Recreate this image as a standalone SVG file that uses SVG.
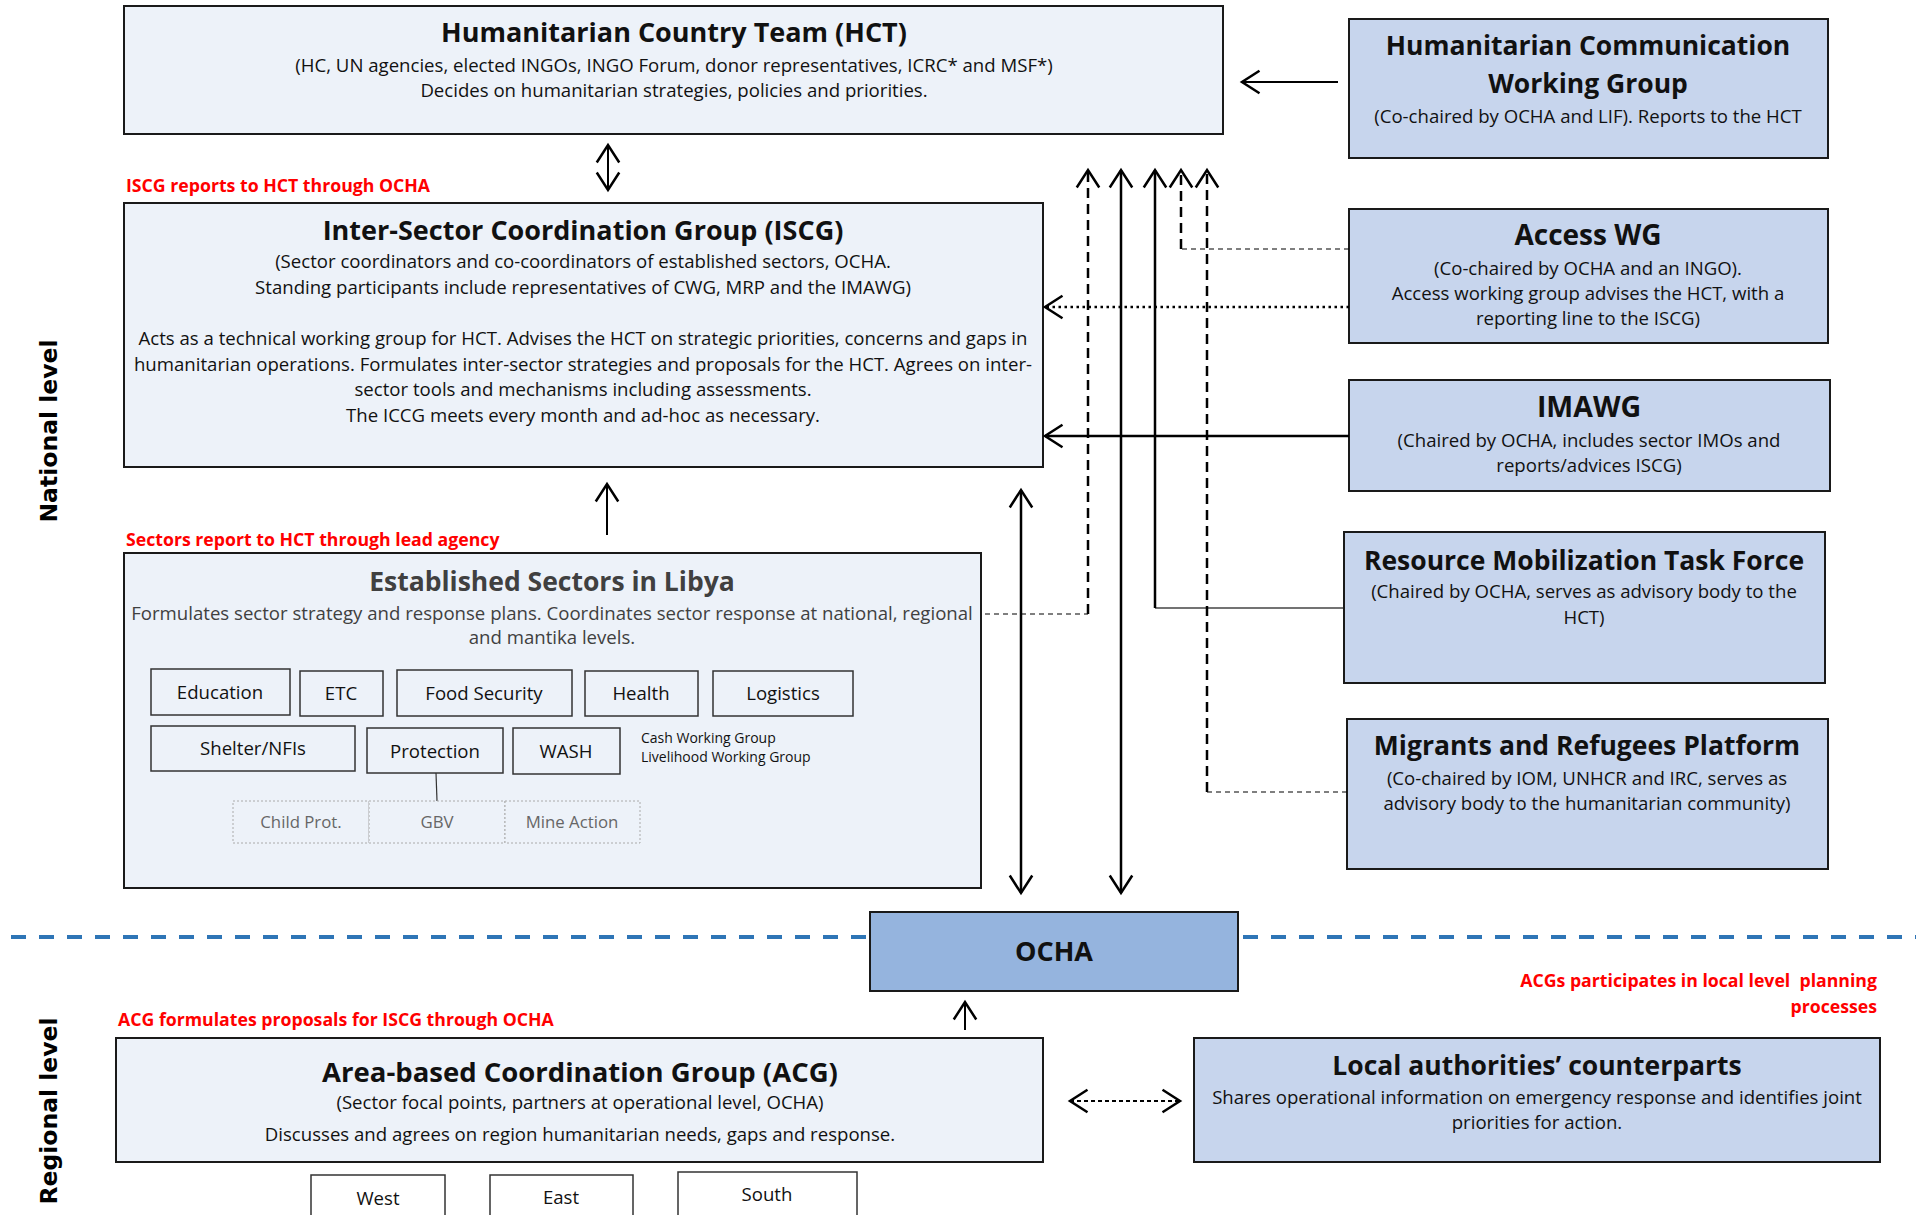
<svg xmlns="http://www.w3.org/2000/svg" width="1916" height="1215" viewBox="0 0 1916 1215">
<defs>
<style>
text{font-family:"Open Sans","Noto Sans","Liberation Sans",sans-serif;fill:#111}
.t{font-weight:bold;font-size:26.5px;text-anchor:middle}
.s{font-size:18.6px;text-anchor:middle}
.red{font-weight:bold;font-size:17.7px;fill:#ff0000}
.lt{fill:#edf2f9;stroke:#1a1a1a;stroke-width:2}
.rb{fill:#c7d5ed;stroke:#1a1a1a;stroke-width:2}
.sec{fill:#edf2f9;stroke:#333;stroke-width:1.5}
.sub{fill:#edf2f9;stroke:#aaa;stroke-width:1;stroke-dasharray:2 2}
.reg{fill:#fff;stroke:#333;stroke-width:1.5}
.sl{font-size:18.6px;text-anchor:middle;fill:#111}
.gl{font-size:16.8px;text-anchor:middle;fill:#666}
.lvl{font-family:"DejaVu Sans",Verdana,sans-serif;font-weight:bold;font-size:23.5px;text-anchor:middle;fill:#000}
.ln{fill:none;stroke:#000;stroke-width:2.5}
.dsh{fill:none;stroke:#000;stroke-width:2.5;stroke-dasharray:10 6}
.thd{fill:none;stroke:#000;stroke-width:1.2;stroke-dasharray:5 4}
</style>
<marker id="ah" markerUnits="userSpaceOnUse" markerWidth="30" markerHeight="30" refX="0" refY="0" viewBox="-16 -12 18 24" orient="auto-start-reverse" overflow="visible">
<path d="M-14,-9 L0,0 L-14,9" fill="none" stroke="#000" stroke-width="2"/>
</marker>
</defs>
<rect width="1916" height="1215" fill="#fff"/>

<!-- level labels -->
<text class="lvl" transform="translate(57,431) rotate(-90)">National level</text>
<text class="lvl" transform="translate(57,1111) rotate(-90)">Regional level</text>

<!-- blue separator -->
<g id="separator">
<line x1="11" y1="937" x2="870" y2="937" stroke="#2e75b6" stroke-width="4" stroke-dasharray="15 13"/>
<line x1="1243" y1="937" x2="1916" y2="937" stroke="#2e75b6" stroke-width="4" stroke-dasharray="15 13"/>
</g>

<!-- red annotations -->
<text class="red" x="126" y="192">ISCG reports to HCT through OCHA</text>
<text class="red" x="126" y="546">Sectors report to HCT through lead agency</text>
<text class="red" x="118" y="1026">ACG formulates proposals for ISCG through OCHA</text>
<text class="red" x="1877" y="987" text-anchor="end" xml:space="preserve">ACGs participates in local level  planning</text>
<text class="red" x="1877" y="1013" text-anchor="end">processes</text>

<g id="hct">
<rect class="lt" x="124" y="6" width="1099" height="128"/>
<text class="t" x="674" y="42" style="font-size:27px">Humanitarian Country Team (HCT)</text>
<text class="s" x="674" y="72">(HC, UN agencies, elected INGOs, INGO Forum, donor representatives, ICRC* and MSF*)</text>
<text class="s" x="674" y="97">Decides on humanitarian strategies, policies and priorities.</text>
</g>

<g id="hcwg">
<rect class="rb" x="1349" y="19" width="479" height="139"/>
<text class="t" x="1588" y="55">Humanitarian Communication</text>
<text class="t" x="1588" y="93">Working Group</text>
<text class="s" x="1588" y="123">(Co-chaired by OCHA and LIF). Reports to the HCT</text>
</g>

<g id="iscg">
<rect class="lt" x="124" y="203" width="919" height="264"/>
<text class="t" x="583" y="240" style="font-size:27px">Inter-Sector Coordination Group (ISCG)</text>
<text class="s" x="583" y="268">(Sector coordinators and co-coordinators of established sectors, OCHA.</text>
<text class="s" x="583" y="294">Standing participants include representatives of CWG, MRP and the IMAWG)</text>
<text class="s" x="583" y="345">Acts as a technical working group for HCT. Advises the HCT on strategic priorities, concerns and gaps in</text>
<text class="s" x="583" y="371">humanitarian operations. Formulates inter-sector strategies and proposals for the HCT. Agrees on inter-</text>
<text class="s" x="583" y="396">sector tools and mechanisms including assessments.</text>
<text class="s" x="583" y="422">The ICCG meets every month and ad-hoc as necessary.</text>
</g>

<g id="access">
<rect class="rb" x="1349" y="209" width="479" height="134"/>
<text class="t" x="1588" y="245" style="font-size:28px">Access WG</text>
<text class="s" x="1588" y="275">(Co-chaired by OCHA and an INGO).</text>
<text class="s" x="1588" y="300">Access working group advises the HCT, with a</text>
<text class="s" x="1588" y="325">reporting line to the ISCG)</text>
</g>

<g id="imawg">
<rect class="rb" x="1349" y="380" width="481" height="111"/>
<text class="t" x="1589" y="417" style="font-size:28.5px">IMAWG</text>
<text class="s" x="1589" y="447">(Chaired by OCHA, includes sector IMOs and</text>
<text class="s" x="1589" y="472">reports/advices ISCG)</text>
</g>

<g id="rmtf">
<rect class="rb" x="1344" y="532" width="481" height="151"/>
<text class="t" x="1584" y="570">Resource Mobilization Task Force</text>
<text class="s" x="1584" y="598">(Chaired by OCHA, serves as advisory body to the</text>
<text class="s" x="1584" y="624">HCT)</text>
</g>

<g id="mrp">
<rect class="rb" x="1347" y="719" width="481" height="150"/>
<text class="t" x="1587" y="755">Migrants and Refugees Platform</text>
<text class="s" x="1587" y="785">(Co-chaired by IOM, UNHCR and IRC, serves as</text>
<text class="s" x="1587" y="810">advisory body to the humanitarian community)</text>
</g>

<g id="sectors">
<rect class="lt" x="124" y="553" width="857" height="335"/>
<text class="t" x="552" y="591" style="fill:#404040">Established Sectors in Libya</text>
<text class="s" x="552" y="620" style="fill:#404040">Formulates sector strategy and response plans. Coordinates sector response at national, regional</text>
<text class="s" x="552" y="644" style="fill:#404040">and mantika levels.</text>
<g id="sec-education"><rect class="sec" x="151" y="669" width="139" height="46"/><text class="sl" x="220" y="699">Education</text></g>
<g id="sec-etc"><rect class="sec" x="300" y="671" width="83" height="45"/><text class="sl" x="341" y="700">ETC</text></g>
<g id="sec-food"><rect class="sec" x="397" y="670" width="175" height="46"/><text class="sl" x="484" y="700">Food Security</text></g>
<g id="sec-health"><rect class="sec" x="585" y="671" width="113" height="45"/><text class="sl" x="641" y="700">Health</text></g>
<g id="sec-logistics"><rect class="sec" x="713" y="671" width="140" height="45"/><text class="sl" x="783" y="700">Logistics</text></g>
<g id="sec-shelter"><rect class="sec" x="151" y="726" width="204" height="45"/><text class="sl" x="253" y="755">Shelter/NFIs</text></g>
<g id="sec-protection"><rect class="sec" x="367" y="728" width="136" height="45"/><text class="sl" x="435" y="758">Protection</text></g>
<g id="sec-wash"><rect class="sec" x="513" y="728" width="107" height="46"/><text class="sl" x="566" y="758">WASH</text></g>
<text x="641" y="743" style="font-size:14px">Cash Working Group</text>
<text x="641" y="762" style="font-size:14px">Livelihood Working Group</text>
<line x1="436" y1="773" x2="437" y2="801" stroke="#333" stroke-width="1.2"/>
<g id="sub-child"><rect class="sub" x="233" y="801" width="136" height="42"/><text class="gl" x="301" y="828">Child Prot.</text></g>
<g id="sub-gbv"><rect class="sub" x="369" y="801" width="136" height="42"/><text class="gl" x="437" y="828">GBV</text></g>
<g id="sub-mine"><rect class="sub" x="505" y="801" width="135" height="42"/><text class="gl" x="572" y="828">Mine Action</text></g>
</g>

<g id="ocha">
<rect x="870" y="912" width="368" height="79" fill="#95b4de" stroke="#1a1a1a" stroke-width="2"/>
<text class="t" x="1054" y="961" style="font-size:27px">OCHA</text>
</g>

<g id="acg">
<rect class="lt" x="116" y="1038" width="927" height="124"/>
<text class="t" x="580" y="1082" style="font-size:27.5px">Area-based Coordination Group (ACG)</text>
<text class="s" x="580" y="1109">(Sector focal points, partners at operational level, OCHA)</text>
<text class="s" x="580" y="1141">Discusses and agrees on region humanitarian needs, gaps and response.</text>
</g>

<g id="lac">
<rect class="rb" x="1194" y="1038" width="686" height="124"/>
<text class="t" x="1537" y="1075">Local authorities’ counterparts</text>
<text class="s" x="1537" y="1104">Shares operational information on emergency response and identifies joint</text>
<text class="s" x="1537" y="1129">priorities for action.</text>
</g>

<g id="regions">
<g id="reg-west"><rect class="reg" x="311" y="1175" width="134" height="60"/><text class="sl" x="378" y="1205">West</text></g>
<g id="reg-east"><rect class="reg" x="490" y="1175" width="143" height="60"/><text class="sl" x="561" y="1204">East</text></g>
<g id="reg-south"><rect class="reg" x="678" y="1172" width="179" height="60"/><text class="sl" x="767" y="1201">South</text></g>
</g>

<g id="connectors">
<line class="ln" x1="1338" y1="82" x2="1242" y2="82" marker-end="url(#ah)" style="stroke-width:2"/>
<line class="ln" x1="608" y1="145" x2="608" y2="190" marker-start="url(#ah)" marker-end="url(#ah)" style="stroke-width:2"/>
<line class="ln" x1="607" y1="535" x2="607" y2="484" marker-end="url(#ah)" style="stroke-width:2"/>
<path class="thd" d="M985,614 H1088"/>
<path class="dsh" d="M1088,614 V170" marker-end="url(#ah)"/>
<line class="ln" x1="1121" y1="170" x2="1121" y2="893" marker-start="url(#ah)" marker-end="url(#ah)"/>
<path d="M1343,608 H1155" fill="none" stroke="#444" stroke-width="1.5"/>
<path class="ln" d="M1155,608 V170" marker-end="url(#ah)"/>
<path class="thd" d="M1349,249 H1181"/>
<path class="dsh" d="M1181,249 V170" marker-end="url(#ah)"/>
<path class="thd" d="M1347,792 H1207"/>
<path class="dsh" d="M1207,792 V170" marker-end="url(#ah)"/>
<line x1="1349" y1="307" x2="1045" y2="307" fill="none" stroke="#000" stroke-width="2.5" stroke-dasharray="2.5 3.5" marker-end="url(#ah)"/>
<line class="ln" x1="1349" y1="436" x2="1045" y2="436" marker-end="url(#ah)"/>
<line class="ln" x1="1021" y1="490" x2="1021" y2="893" marker-start="url(#ah)" marker-end="url(#ah)"/>
<line class="ln" x1="965" y1="1030" x2="965" y2="1002" marker-end="url(#ah)" style="stroke-width:2"/>
<line x1="1070" y1="1101" x2="1180" y2="1101" stroke="#000" stroke-width="2" stroke-dasharray="4 3" marker-start="url(#ah)" marker-end="url(#ah)"/>
</g>
</svg>
